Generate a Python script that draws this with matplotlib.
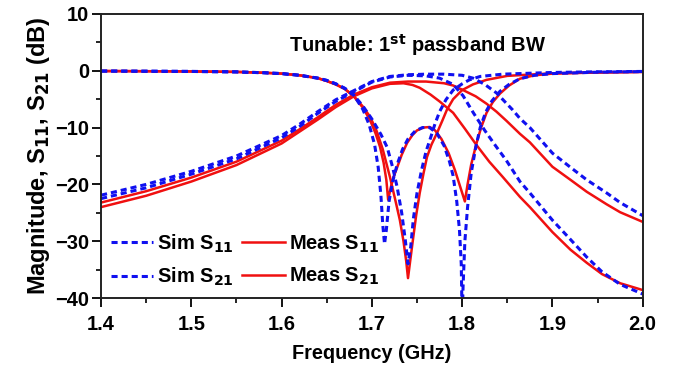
import numpy as np
import matplotlib
matplotlib.use('Agg')
import matplotlib.pyplot as plt
from matplotlib.ticker import MultipleLocator

plt.rcParams['font.family'] = ['Liberation Sans', 'DejaVu Sans']
plt.rcParams['font.weight'] = 'bold'
plt.rcParams['mathtext.default'] = 'bf'

# ---- S11, narrow-BW state ----
f_s11_sim_n = [1.40, 1.45, 1.50, 1.55, 1.58, 1.60, 1.62, 1.64, 1.65, 1.66, 1.67, 1.68, 1.69,
               1.70, 1.71, 1.717, 1.723, 1.728, 1.733, 1.737, 1.740, 1.743, 1.746, 1.750,
               1.755, 1.760, 1.765, 1.770, 1.775, 1.782, 1.790, 1.800, 1.808, 1.820, 1.845,
               1.90, 1.95, 2.00]
s11_sim_n = [-0.05, -0.08, -0.12, -0.2, -0.35, -0.5, -0.8, -1.3, -1.7, -2.3, -3.1, -4.3, -6.2,
             -8.5, -11.2, -13.5, -17.0, -20.5, -25.0, -29.8, -34.0, -31.0, -26.0, -21.5,
             -17.5, -14.2, -11.8, -9.3, -7.2, -5.1, -3.4, -2.3, -1.6, -1.0, -0.6,
             -0.3, -0.18, -0.12]

f_s11_meas_n = [1.40, 1.45, 1.50, 1.55, 1.58, 1.60, 1.62, 1.64, 1.65, 1.66, 1.67, 1.68, 1.69,
                1.698, 1.705, 1.712, 1.720, 1.726, 1.731, 1.735, 1.738, 1.740, 1.742, 1.745,
                1.749, 1.753, 1.757, 1.761, 1.766, 1.772, 1.778, 1.783, 1.790, 1.800, 1.812,
                1.827, 1.850, 1.90, 1.95, 2.00]
s11_meas_n = [-0.05, -0.08, -0.12, -0.2, -0.35, -0.5, -0.8, -1.3, -1.8, -2.4, -3.2, -4.5, -6.3,
              -8.1, -10.5, -13.8, -18.7, -22.8, -26.3, -30.0, -33.5, -36.5, -34.0, -30.3,
              -25.5, -21.5, -18.2, -15.2, -13.0, -11.0, -8.8, -6.9, -5.0, -3.4, -2.4,
              -1.6, -0.9, -0.45, -0.3, -0.2]

# ---- S11, wide-BW state ----
f_s11_sim_w = [1.40, 1.45, 1.50, 1.55, 1.58, 1.60, 1.62, 1.64, 1.65, 1.66, 1.67, 1.68, 1.69,
               1.697, 1.703, 1.707, 1.710, 1.712, 1.714, 1.716, 1.719, 1.723, 1.728, 1.734,
               1.740, 1.748, 1.756, 1.764, 1.772, 1.780, 1.786, 1.790, 1.794, 1.797, 1.799,
               1.800, 1.801, 1.803, 1.806, 1.810, 1.815, 1.820, 1.826, 1.833, 1.842, 1.852,
               1.864, 1.88, 1.90, 1.95, 2.00]
s11_sim_w = [-0.05, -0.08, -0.12, -0.2, -0.35, -0.5, -0.8, -1.3, -1.7, -2.3, -3.1, -4.3, -6.8,
             -9.5, -13.0, -17.0, -22.0, -27.0, -30.5, -28.0, -23.0, -19.5, -16.5, -13.8,
             -12.0, -10.6, -10.0, -10.0, -11.0, -13.2, -16.0, -18.5, -23.0, -28.0, -34.0,
             -44.0, -38.0, -30.0, -24.0, -18.0, -13.5, -10.0, -7.3, -5.3, -3.6, -2.4,
             -1.4, -0.8, -0.5, -0.25, -0.15]

f_s11_meas_w = [1.40, 1.45, 1.50, 1.55, 1.58, 1.60, 1.62, 1.64, 1.65, 1.66, 1.67, 1.68, 1.69,
                1.698, 1.704, 1.709, 1.713, 1.716, 1.718, 1.721, 1.724, 1.728, 1.733, 1.739,
                1.745, 1.750, 1.757, 1.764, 1.770, 1.777, 1.785, 1.792, 1.798, 1.803, 1.806,
                1.810, 1.816, 1.821, 1.827, 1.834, 1.842, 1.852, 1.864, 1.88, 1.90, 1.95, 2.00]
s11_meas_w = [-0.05, -0.08, -0.12, -0.2, -0.35, -0.5, -0.8, -1.3, -1.8, -2.4, -3.2, -4.5, -6.5,
              -8.7, -11.0, -13.4, -16.2, -19.2, -22.7, -20.5, -18.7, -17.0, -14.8, -12.7,
              -11.3, -10.5, -10.0, -9.9, -10.5, -12.0, -14.5, -17.5, -20.5, -23.0, -20.0,
              -16.5, -12.7, -10.0, -7.4, -5.5, -4.0, -2.6, -1.4, -0.8, -0.5, -0.3, -0.2]

# ---- S21, wide-BW state ----
f_s21_sim_w = [1.40, 1.45, 1.50, 1.55, 1.60, 1.62, 1.64, 1.66, 1.68, 1.70, 1.72, 1.74, 1.76,
               1.78, 1.80, 1.812, 1.825, 1.838, 1.856, 1.864, 1.875, 1.90, 1.92, 1.938, 1.96,
               1.975, 2.00]
s21_sim_w = [-21.9, -20.0, -17.7, -15.0, -11.4, -9.4, -7.2, -5.1, -3.5, -1.9, -1.0, -0.7, -0.6,
             -0.6, -0.8, -1.3, -2.4, -3.9, -6.9, -8.4, -10.0, -14.5, -17.0, -19.2, -21.5,
             -23.2, -25.5]

f_s21_meas_w = [1.40, 1.45, 1.50, 1.55, 1.60, 1.62, 1.64, 1.66, 1.68, 1.70, 1.72, 1.74, 1.76,
                1.78, 1.79, 1.801, 1.815, 1.827, 1.838, 1.849, 1.864, 1.875, 1.90, 1.92, 1.938,
                1.96, 1.975, 2.00]
s21_meas_w = [-23.2, -21.2, -18.8, -16.0, -12.3, -10.3, -8.2, -6.0, -4.2, -2.9, -2.1, -1.9, -1.9,
              -2.2, -2.6, -3.4, -4.5, -5.8, -7.2, -8.8, -11.1, -12.6, -16.9, -19.2, -21.3,
              -23.5, -24.9, -26.6]

# ---- S21, narrow-BW state ----
f_s21_sim_n = [1.40, 1.45, 1.50, 1.55, 1.60, 1.62, 1.64, 1.66, 1.68, 1.70, 1.72, 1.74, 1.76,
               1.775, 1.79, 1.801, 1.812, 1.825, 1.837, 1.849, 1.864, 1.875, 1.90, 1.92, 1.938,
               1.955, 1.975, 2.00]
s21_sim_n = [-22.5, -20.6, -18.2, -15.5, -11.8, -9.8, -7.5, -5.4, -3.7, -2.0, -1.1, -0.8, -0.9,
             -1.3, -2.4, -4.4, -7.3, -10.5, -13.2, -15.8, -19.5, -21.5, -26.3, -29.7, -32.8,
             -35.4, -37.6, -39.3]

f_s21_meas_n = [1.40, 1.45, 1.50, 1.55, 1.60, 1.62, 1.64, 1.66, 1.68, 1.70, 1.72, 1.735, 1.745,
                1.753, 1.765, 1.775, 1.79, 1.803, 1.816, 1.83, 1.845, 1.864, 1.875, 1.90, 1.92,
                1.938, 1.955, 1.975, 2.00]
s21_meas_n = [-24.0, -22.0, -19.5, -16.6, -12.8, -10.7, -8.6, -6.4, -4.5, -3.1, -2.3, -2.2, -2.5,
              -3.0, -4.2, -5.4, -7.4, -10.2, -13.1, -16.0, -18.7, -22.2, -24.0, -28.4, -31.5,
              -33.8, -35.8, -37.4, -38.6]

fig = plt.figure(figsize=(6.83, 3.67), dpi=100)
ax = fig.add_axes([0.148, 0.188, 0.793, 0.774])

sim_kw = dict(color='#1010f0', lw=2.2, dashes=(2.0, 1.3))
meas_kw = dict(color='#f01010', lw=1.8)

# measured first so the dashed sim lines sit on top
ax.plot(f_s11_meas_n, s11_meas_n, **meas_kw)
ax.plot(f_s11_meas_w, s11_meas_w, **meas_kw)
ax.plot(f_s21_meas_n, s21_meas_n, **meas_kw)
ax.plot(f_s21_meas_w, s21_meas_w, **meas_kw)
ax.plot(f_s11_sim_n, s11_sim_n, **sim_kw)
ax.plot(f_s11_sim_w, s11_sim_w, **sim_kw)
ax.plot(f_s21_sim_n, s21_sim_n, **sim_kw)
ax.plot(f_s21_sim_w, s21_sim_w, **sim_kw)

# legend proxies
h1, = ax.plot([], [], label='Sim S$_{11}$', **sim_kw)
h2, = ax.plot([], [], label='Sim S$_{21}$', **sim_kw)
h3, = ax.plot([], [], label='Meas S$_{11}$', **meas_kw)
h4, = ax.plot([], [], label='Meas S$_{21}$', **meas_kw)
ax.legend(handles=[h1, h2, h3, h4], ncol=2, loc='lower left', frameon=False,
          fontsize=14.5, handlelength=2.1, handletextpad=0.2, columnspacing=0.4,
          labelspacing=0.55, borderaxespad=0.1, bbox_to_anchor=(0.0, 0.0))

ax.text(1.751, 4.5, 'Tunable: 1$^{st}$ passband BW', fontsize=14.5, fontweight='bold',
        ha='center', va='center')

ax.set_xlim(1.4, 2.0)
ax.set_ylim(-40, 10)
ax.xaxis.set_major_locator(MultipleLocator(0.1))
ax.xaxis.set_minor_locator(MultipleLocator(0.05))
ax.yaxis.set_major_locator(MultipleLocator(10))
ax.yaxis.set_minor_locator(MultipleLocator(5))
ax.set_xticklabels([f'{v:.1f}' for v in ax.get_xticks()])
ax.tick_params(which='major', direction='out', length=6.5, width=1.3, labelsize=14.5, pad=2)
ax.tick_params(axis='x', which='major', pad=6)
ax.tick_params(which='minor', direction='out', length=3.5, width=1.2)
for s in ax.spines.values():
    s.set_linewidth(1.4)
    s.set_color('#222222')

ax.set_xlabel('Frequency (GHz)', fontsize=14.3, fontweight='bold', labelpad=7)
ax.set_ylabel('Magnitude, S$_{11}$, S$_{21}$ (dB)', fontsize=17, fontweight='bold', labelpad=2)

fig.savefig('out.png', dpi=100)
